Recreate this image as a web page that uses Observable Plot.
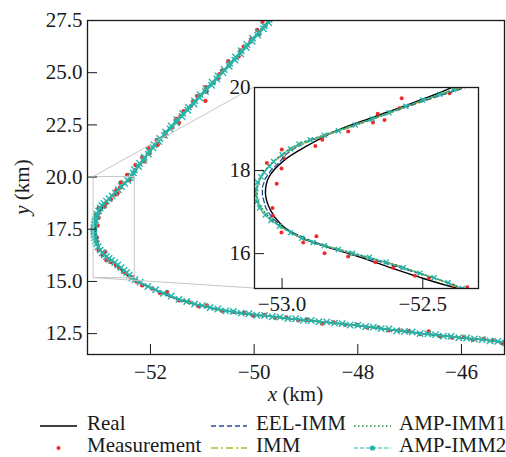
<!DOCTYPE html>
<html><head><meta charset="utf-8">
<script src="https://cdn.jsdelivr.net/npm/d3@7"></script>
<script src="https://cdn.jsdelivr.net/npm/@observablehq/plot@0.6"></script>
<style>
body{margin:0;background:#fff;}
#wrap{position:relative;width:506px;height:457px;overflow:hidden;font-family:'Liberation Serif';}
</style></head><body><div id="wrap"></div>
<script>
// ---------- data (km) ----------
const mainXDomain = [-53.215, -45.17];
const mainYDomain = [11.5, 27.5];
const insetXDomain = [-53.098, -52.302];
const insetYDomain = [15.16, 20.0];
const mainXTicks = [-52, -50, -48, -46];
const mainYTicks = [12.5, 15.0, 17.5, 20.0, 22.5, 25.0, 27.5];
const insetXTicks = [-53.0, -52.5];
const insetYTicks = [16, 18, 20];
const seriesNames = ["Real", "Measurement", "EEL-IMM", "IMM", "AMP-IMM1", "AMP-IMM2"];

const real = [[-45.10,12.05],[-45.60,12.20],[-46.10,12.33],[-46.60,12.46],[-47.10,12.60],[-47.60,12.76],[-48.10,12.91],[-48.60,13.04],[-49.10,13.16],[-49.60,13.30],[-50.10,13.43],[-50.55,13.59],[-50.90,13.76],[-51.20,13.94],[-51.50,14.17],[-51.75,14.42],[-52.00,14.68],[-52.20,14.93],[-52.39,15.19],[-52.52,15.45],[-52.63,15.70],[-52.74,15.95],[-52.85,16.18],[-52.94,16.40],[-53.006,16.72],[-53.041,17.04],[-53.059,17.44],[-53.047,17.84],[-52.994,18.24],[-52.91,18.60],[-52.80,18.98],[-52.67,19.30],[-52.54,19.62],[-52.41,19.96],[-52.25,20.50],[-52.09,21.00],[-51.75,22.00],[-51.38,23.00],[-51.00,24.00],[-50.62,25.00],[-50.25,26.00],[-49.88,27.00],[-49.63,27.70]];

const measurement = [[-45.22,12.05],[-45.40,12.17],[-45.57,12.24],[-45.78,12.21],[-45.95,12.33],[-46.18,12.31],[-46.41,12.37],[-46.63,12.60],[-46.80,12.48],[-47.02,12.61],[-47.21,12.65],[-47.40,12.66],[-47.60,12.80],[-47.82,12.79],[-48.02,12.93],[-48.25,12.92],[-48.47,13.04],[-48.69,12.98],[-48.98,13.16],[-49.15,13.14],[-49.38,13.27],[-49.60,13.26],[-49.80,13.40],[-50.02,13.37],[-50.20,13.50],[-50.39,13.53],[-50.62,13.60],[-50.91,13.85],[-51.08,13.82],[-51.26,14.01],[-51.45,14.10],[-51.68,14.50],[-51.82,14.46],[-51.97,14.66],[-52.16,14.82],[-52.27,15.00],
[-52.342,15.19],[-52.392,15.23],[-52.478,15.41],[-52.528,15.47],[-52.605,15.66],[-52.668,15.79],[-52.765,15.93],[-52.849,16.01],[-52.925,16.27],[-52.878,16.42],[-53.002,16.51],[-53.033,16.91],[-53.034,17.10],[-53.10,17.50],[-53.019,17.68],[-53.002,18.05],[-53.054,18.18],[-52.994,18.30],[-53.001,18.51],[-52.882,18.59],[-52.857,18.74],[-52.765,18.94],[-52.677,19.16],[-52.636,19.22],[-52.660,19.37],[-52.583,19.50],[-52.575,19.74],[-52.405,19.86],
[-52.45,20.10],[-52.30,20.30],[-52.29,20.58],[-52.12,20.75],[-52.16,20.95],[-52.02,21.15],[-52.04,21.38],[-51.86,21.55],[-51.88,21.78],[-51.72,21.98],[-51.71,22.14],[-51.58,22.38],[-51.45,22.60],[-51.50,22.78],[-51.42,22.92],[-51.36,23.16],[-51.22,23.40],[-51.18,23.62],[-50.94,23.65],[-51.10,23.89],[-50.92,24.08],[-50.93,24.30],[-50.78,24.52],[-50.70,24.72],[-50.67,24.93],[-50.62,25.10],[-50.48,25.35],[-50.50,25.55],[-50.30,25.78],[-50.26,26.06],[-50.20,26.25],[-50.07,26.48],[-50.05,26.62],[-49.90,26.85],[-49.94,27.05],[-49.78,27.25],[-49.84,27.44]];

const eelImm = [[-45.15,12.07],[-45.60,12.21],[-46.10,12.32],[-46.60,12.46],[-47.10,12.61],[-47.60,12.76],[-48.10,12.91],[-48.60,13.05],[-49.10,13.17],[-49.60,13.30],[-50.10,13.44],[-50.60,13.62],[-51.10,13.89],[-51.50,14.18],[-51.90,14.58],[-52.20,14.94],
[-52.35,15.15],[-52.45,15.39],[-52.57,15.64],[-52.69,15.88],[-52.80,16.08],[-52.90,16.32],[-52.96,16.50],[-53.00,16.66],[-53.035,16.85],[-53.058,17.10],[-53.07,17.40],[-53.07,17.60],[-53.06,17.80],[-53.04,18.00],[-53.01,18.20],[-52.985,18.40],[-52.95,18.56],[-52.90,18.72],[-52.84,18.86],[-52.76,19.04],[-52.66,19.28],[-52.55,19.55],[-52.44,19.80],[-52.37,19.95],[-52.34,20.03],
[-52.24,20.50],[-52.08,21.00],[-51.93,21.50],[-51.74,22.00],[-51.57,22.50],[-51.37,23.00],[-51.20,23.50],[-51.00,24.00],[-50.82,24.50],[-50.62,25.00],[-50.44,25.50],[-50.25,26.00],[-50.06,26.50],[-49.89,27.00],[-49.64,27.70]];

const imm = [[-45.15,12.08],[-45.70,12.23],[-46.20,12.35],[-46.70,12.49],[-47.20,12.64],[-47.70,12.80],[-48.20,12.94],[-48.70,13.07],[-49.20,13.20],[-49.70,13.33],[-50.20,13.47],[-50.70,13.67],[-51.20,13.96],[-51.60,14.29],[-51.95,14.65],[-52.20,14.96],
[-52.37,15.17],[-52.44,15.36],[-52.52,15.55],[-52.60,15.73],[-52.68,15.88],[-52.76,16.02],[-52.84,16.17],[-52.90,16.30],[-52.95,16.44],[-53.00,16.62],[-53.04,16.80],[-53.07,17.00],[-53.085,17.20],[-53.09,17.40],[-53.088,17.60],[-53.078,17.80],[-53.06,18.00],[-53.035,18.18],[-53.00,18.36],[-52.96,18.54],[-52.91,18.70],[-52.84,18.86],[-52.76,19.04],[-52.66,19.28],[-52.55,19.56],[-52.45,19.80],[-52.37,19.98],[-52.34,20.05],
[-52.22,20.50],[-52.07,21.00],[-51.91,21.50],[-51.73,22.00],[-51.55,22.50],[-51.36,23.00],[-51.18,23.50],[-50.98,24.00],[-50.80,24.50],[-50.60,25.00],[-50.43,25.50],[-50.23,26.00],[-50.05,26.50],[-49.86,27.00],[-49.62,27.70]];

const ampImm1 = [[-45.15,12.07],[-45.65,12.22],[-46.15,12.34],[-46.65,12.48],[-47.15,12.62],[-47.65,12.79],[-48.15,12.93],[-48.65,13.06],[-49.15,13.19],[-49.65,13.31],[-50.15,13.46],[-50.65,13.64],[-51.15,13.93],[-51.55,14.24],[-51.95,14.64],[-52.20,14.95],
[-52.36,15.17],[-52.43,15.35],[-52.51,15.53],[-52.59,15.72],[-52.67,15.87],[-52.75,16.02],[-52.83,16.16],[-52.89,16.28],[-52.94,16.42],[-52.99,16.60],[-53.03,16.78],[-53.06,16.98],[-53.08,17.18],[-53.09,17.38],[-53.09,17.58],[-53.08,17.78],[-53.065,17.96],[-53.045,18.14],[-53.01,18.34],[-52.975,18.52],[-52.93,18.68],[-52.86,18.84],[-52.78,19.02],[-52.68,19.25],[-52.57,19.52],[-52.46,19.78],[-52.38,19.96],[-52.35,20.04],
[-52.23,20.50],[-52.08,21.00],[-51.92,21.50],[-51.74,22.00],[-51.56,22.50],[-51.37,23.00],[-51.19,23.50],[-50.99,24.00],[-50.81,24.50],[-50.61,25.00],[-50.44,25.50],[-50.24,26.00],[-50.06,26.50],[-49.87,27.00],[-49.63,27.70]];

const ampImm2 = [[-45.15,12.06],[-45.30,12.13],[-45.45,12.15],[-45.60,12.22],[-45.75,12.24],[-45.90,12.29],[-46.05,12.30],[-46.20,12.37],[-46.35,12.38],[-46.50,12.45],[-46.65,12.49],[-46.80,12.50],[-46.95,12.58],[-47.10,12.61],[-47.25,12.64],[-47.40,12.72],[-47.55,12.74],[-47.70,12.81],[-47.85,12.83],[-48.00,12.90],[-48.15,12.91],[-48.30,12.98],[-48.45,13.00],[-48.60,13.06],[-48.75,13.07],[-48.90,13.13],[-49.05,13.14],[-49.20,13.21],[-49.35,13.22],[-49.50,13.29],[-49.65,13.31],[-49.80,13.37],[-49.95,13.38],[-50.10,13.45],[-50.25,13.48],[-50.40,13.56],[-50.55,13.59],[-50.70,13.68],[-50.85,13.75],[-51.00,13.84],[-51.15,13.92],[-51.30,14.04],[-51.45,14.14],[-51.60,14.30],[-51.75,14.43],[-51.90,14.60],[-52.05,14.76],[-52.20,14.96],[-52.30,15.08],
[-52.36,15.16],[-52.41,15.30],[-52.46,15.42],[-52.51,15.53],[-52.57,15.66],[-52.63,15.79],[-52.69,15.91],[-52.75,16.01],[-52.80,16.10],[-52.85,16.19],[-52.89,16.27],[-52.93,16.37],[-52.97,16.50],[-53.01,16.66],[-53.04,16.80],[-53.06,16.93],[-53.08,17.10],[-53.09,17.25],[-53.095,17.40],[-53.093,17.56],[-53.087,17.72],[-53.075,17.85],[-53.064,17.96],[-53.045,18.10],[-53.03,18.22],[-53.00,18.38],[-52.97,18.52],[-52.94,18.64],[-52.90,18.74],[-52.85,18.85],[-52.80,18.96],[-52.74,19.10],[-52.68,19.24],[-52.62,19.39],[-52.56,19.55],[-52.50,19.70],[-52.44,19.84],[-52.39,19.96],[-52.36,20.05],
[-52.33,20.20],[-52.31,20.35],[-52.23,20.50],[-52.21,20.65],[-52.13,20.80],[-52.12,20.95],[-52.04,21.10],[-52.03,21.25],[-51.95,21.40],[-51.93,21.55],[-51.84,21.70],[-51.82,21.85],[-51.73,22.00],[-51.71,22.15],[-51.62,22.30],[-51.60,22.45],[-51.50,22.60],[-51.49,22.75],[-51.39,22.90],[-51.38,23.05],[-51.28,23.20],[-51.27,23.35],[-51.16,23.50],[-51.15,23.65],[-51.05,23.80],[-51.04,23.95],[-50.94,24.10],[-50.93,24.25],[-50.82,24.40],[-50.81,24.55],[-50.72,24.70],[-50.70,24.85],[-50.60,25.00],[-50.58,25.15],[-50.48,25.30],[-50.47,25.45],[-50.37,25.60],[-50.36,25.75],[-50.26,25.90],[-50.25,26.05],[-50.15,26.20],[-50.14,26.35],[-50.04,26.50],[-50.03,26.65],[-49.93,26.80],[-49.92,26.95],[-49.82,27.10],[-49.81,27.25],[-49.72,27.40],[-49.71,27.55],[-49.62,27.70]];

// ---------- styles ----------
const FONT = "Liberation Serif";
const FS = 21;
const INK = "#1a1a1a";
const colors = {real:"#000000", meas:"#ee2a2a", eel:"#1f4ea3", imm:"#b5b533", amp1:"#2a8a3a", amp2:"#26b5ab", box:"#c6c6c6"};

const W = 506, H = 410;
const M = {left:87, right:2, top:20, bottom:56};
const IN = {left:200, top:70, width:290, height:250, ml:54, mr:12, mt:17, mb:32};

function seriesMarks(big) {
  const o = {x: d => d[0], y: d => d[1], clip: true};
  return [
    Plot.line(real, {...o, stroke: colors.real, strokeWidth: 1.4, curve: "catmull-rom"}),
    Plot.dot(measurement, {...o, r: big ? 2.2 : 2, fill: colors.meas}),
    Plot.line(eelImm, {...o, stroke: colors.eel, strokeWidth: 1.3, strokeDasharray: "5,3"}),
    Plot.line(imm, {...o, stroke: colors.imm, strokeWidth: 1.3, strokeDasharray: "7,3,2,3"}),
    Plot.line(ampImm1, {...o, stroke: colors.amp1, strokeWidth: 1.3, strokeDasharray: "1.5,2.5"}),
    Plot.line(ampImm2, {...o, stroke: colors.amp2, strokeWidth: big ? 1.6 : 1, strokeDasharray: big ? null : "4,2"}),
    Plot.dot(ampImm2, {...o, symbol: "times", r: big ? 3 : 2.4, stroke: colors.amp2, strokeWidth: 1.4})
  ];
}

function axes(xt, yt, xf, yf, xPad, yPad) {
  return [
    Plot.axisX(xt, {tickSize: 0, tickPadding: xPad, tickFormat: xf, label: null, fontSize: FS}),
    Plot.axisX(xt, {tickSize: 10, dy: -10, tickFormat: () => "", label: null, stroke: INK}),
    Plot.axisY(yt, {tickSize: 0, tickPadding: yPad, tickFormat: yf, label: null, fontSize: FS}),
    Plot.axisY(yt, {tickSize: 10, dx: 10, tickFormat: () => "", label: null, stroke: INK})
  ];
}

const main = Plot.plot({
  width: W, height: H,
  marginLeft: M.left, marginRight: M.right, marginTop: M.top, marginBottom: M.bottom,
  style: {fontFamily: FONT, fontSize: FS + "px", color: INK, background: "white"},
  x: {domain: mainXDomain, label: null},
  y: {domain: mainYDomain, label: null},
  marks: [
    ...seriesMarks(true),
    Plot.rect([{x1: insetXDomain[0], x2: insetXDomain[1], y1: insetYDomain[0], y2: insetYDomain[1]}],
      {x1: "x1", x2: "x2", y1: "y1", y2: "y2", fill: "none", stroke: colors.box, strokeWidth: 1}),
    Plot.frame({stroke: INK, strokeWidth: 1.3}),
    ...axes(mainXTicks, mainYTicks, d3.format("d"), d3.format(".1f"), 10, 5)
  ]
});

const inset = Plot.plot({
  width: IN.width, height: IN.height,
  marginLeft: IN.ml, marginRight: IN.mr, marginTop: IN.mt, marginBottom: IN.mb,
  style: {fontFamily: FONT, fontSize: FS + "px", color: INK, background: "transparent"},
  x: {domain: insetXDomain, label: null},
  y: {domain: insetYDomain, label: null},
  marks: [
    Plot.frame({fill: "white", stroke: "none"}),
    ...seriesMarks(false),
    Plot.frame({stroke: INK, strokeWidth: 1.3}),
    ...axes(insetXTicks, insetYTicks, d3.format(".1f"), d3.format("d"), 8, 4)
  ]
});

const wrap = document.getElementById("wrap");
main.style.position = "absolute"; main.style.left = "0px"; main.style.top = "0px";
wrap.appendChild(main);

// connector lines between the zoom box and the inset, positioned via the main scales
const sx = main.scale("x"), sy = main.scale("y");
const gM = d3.select(main);
const bx = sx.apply(insetXDomain[0]);
const ix = IN.left + IN.ml, iTop = IN.top + IN.mt, iBot = IN.top + IN.height - IN.mb;
gM.append("line").attr("x1", bx).attr("y1", sy.apply(insetYDomain[1])).attr("x2", ix).attr("y2", iTop)
  .attr("stroke", colors.box).attr("stroke-width", 1);
gM.append("line").attr("x1", bx).attr("y1", sy.apply(insetYDomain[0])).attr("x2", ix).attr("y2", iBot)
  .attr("stroke", colors.box).attr("stroke-width", 1);

// axis titles
const frameBottom = H - M.bottom;
gM.append("text").attr("x", (M.left + W - M.right) / 2).attr("y", frameBottom + 47)
  .attr("text-anchor", "middle").style("font-family", FONT).attr("font-size", FS).attr("fill", INK)
  .call(t => { t.append("tspan").attr("font-style", "italic").text("x"); t.append("tspan").text(" (km)"); });
gM.append("text").attr("transform", `translate(29,${(M.top + frameBottom) / 2}) rotate(-90)`)
  .attr("text-anchor", "middle").style("font-family", FONT).attr("font-size", FS).attr("fill", INK)
  .call(t => { t.append("tspan").attr("font-style", "italic").text("y"); t.append("tspan").text(" (km)"); });

inset.style.position = "absolute"; inset.style.left = IN.left + "px"; inset.style.top = IN.top + "px";
wrap.appendChild(inset);

// legend (below the plot)
const LEG_TOP = 400;
const leg = d3.select(wrap).append("svg").attr("width", W).attr("height", 457 - LEG_TOP)
  .style("position", "absolute").style("left", "0px").style("top", LEG_TOP + "px");
const rows = [26, 48];
const items = [
  {col: 0, row: 0, name: seriesNames[0], kind: "line", color: colors.real, dash: null, w: 1.6},
  {col: 0, row: 1, name: seriesNames[1], kind: "dot", color: colors.meas},
  {col: 1, row: 0, name: seriesNames[2], kind: "line", color: colors.eel, dash: "5,3", w: 1.6},
  {col: 1, row: 1, name: seriesNames[3], kind: "line", color: colors.imm, dash: "7,3,2,3", w: 1.6},
  {col: 2, row: 0, name: seriesNames[4], kind: "line", color: colors.amp1, dash: "1.5,2.5", w: 1.6},
  {col: 2, row: 1, name: seriesNames[5], kind: "linedot", color: colors.amp2, dash: "4,2", w: 1.1}
];
const cols = [{x0: 40, x1: 77, tx: 87}, {x0: 211, x1: 247, tx: 256}, {x0: 354, x1: 391, tx: 399}];
items.forEach(it => {
  const c = cols[it.col], y = rows[it.row];
  if (it.kind === "dot") {
    leg.append("circle").attr("cx", (c.x0 + c.x1) / 2).attr("cy", y).attr("r", 2).attr("fill", it.color);
  } else {
    const l = leg.append("line").attr("x1", c.x0).attr("x2", c.x1).attr("y1", y).attr("y2", y)
      .attr("stroke", it.color).attr("stroke-width", it.w);
    if (it.dash) l.attr("stroke-dasharray", it.dash);
    if (it.kind === "linedot") leg.append("circle").attr("cx", (c.x0 + c.x1) / 2).attr("cy", y).attr("r", 2.6).attr("fill", it.color);
  }
  leg.append("text").attr("x", c.tx).attr("y", y + 4).style("font-family", FONT).attr("font-size", FS)
    .attr("fill", INK).text(it.name);
});
</script>
</body></html>
